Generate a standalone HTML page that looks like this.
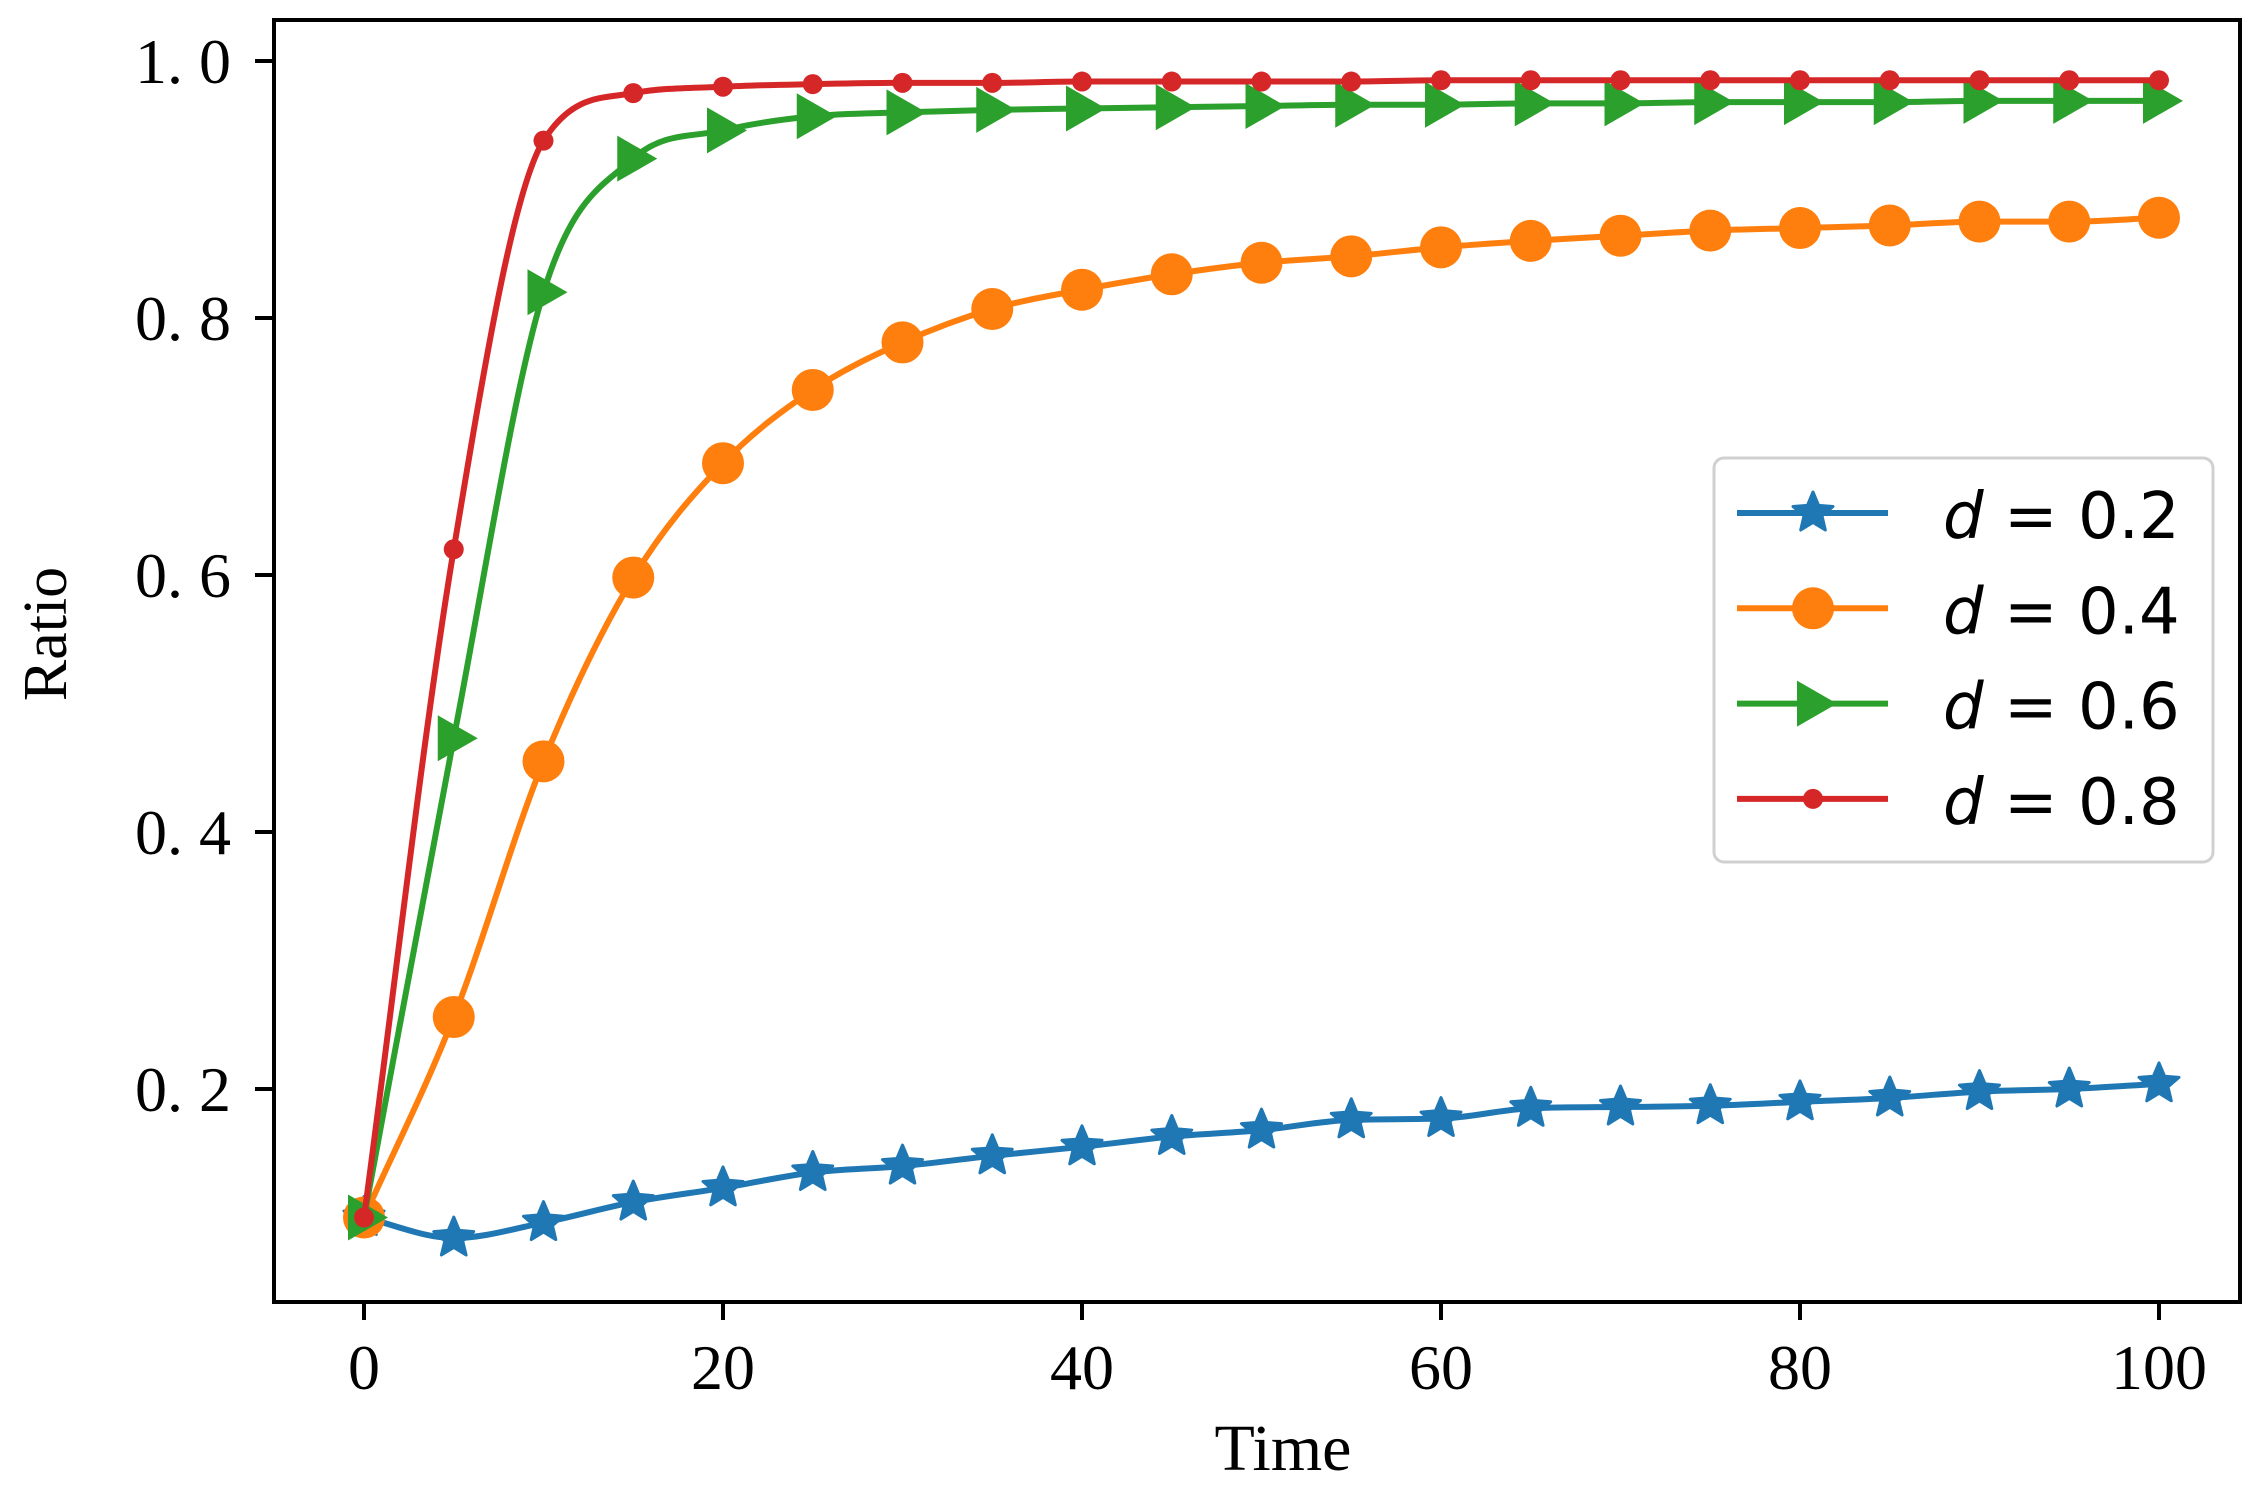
<!DOCTYPE html>
<html><head><meta charset="utf-8"><style>
html,body{margin:0;padding:0;background:#fff;}
svg{display:block;}
</style></head><body>
<svg id="chart" width="2261" height="1488" viewBox="0 0 2261 1488" xmlns="http://www.w3.org/2000/svg">
<g id="plot"></g>
</svg>
<script>
const times = [0,5,10,15,20,25,30,35,40,45,50,55,60,65,70,75,80,85,90,95,100];
const seriesD02 = [0.1,0.084,0.096,0.112,0.123,0.135,0.14,0.148,0.155,0.163,0.168,0.176,0.177,0.185,0.186,0.187,0.19,0.193,0.198,0.2,0.204];
const seriesD04 = [0.1,0.256,0.455,0.598,0.687,0.744,0.781,0.807,0.822,0.834,0.843,0.848,0.855,0.86,0.864,0.868,0.87,0.872,0.875,0.875,0.878];
const seriesD06 = [0.1,0.473,0.82,0.924,0.946,0.957,0.96,0.962,0.963,0.964,0.965,0.966,0.966,0.967,0.967,0.968,0.968,0.968,0.969,0.969,0.969];
const seriesD08 = [0.1,0.62,0.938,0.975,0.98,0.982,0.983,0.983,0.984,0.984,0.984,0.984,0.985,0.985,0.985,0.985,0.985,0.985,0.985,0.985,0.985];
const xTicks = [0,20,40,60,80,100];
const yTicks = [0.2,0.4,0.6,0.8,1.0];
const yTickLabels = ["0. 2","0. 4","0. 6","0. 8","1. 0"];
const legendLabels = ["0.2","0.4","0.6","0.8"];

const NS="http://www.w3.org/2000/svg";
const svg=document.getElementById('chart');
const g=document.getElementById('plot');
const L=274,R=2240,T=20,B=1302;
function xs(t){return 364+(t-0)*(2159-364)/100;}
function ys(v){return 61+(1.0-v)*(1285/1.0);}
function mk(tag,attrs,parent){const e=document.createElementNS(NS,tag);for(const k in attrs)e.setAttribute(k,attrs[k]);(parent||g).appendChild(e);return e;}
function monotone(pts){
  const n=pts.length;const dx=[],s=[];
  for(let i=0;i<n-1;i++){dx.push(pts[i+1][0]-pts[i][0]);s.push((pts[i+1][1]-pts[i][1])/dx[i]);}
  const m=new Array(n);m[0]=s[0];m[n-1]=s[n-2];
  for(let i=1;i<n-1;i++){ if(s[i-1]*s[i]<=0) m[i]=0; else { m[i]=(s[i-1]+s[i])/2; } }
  for(let i=0;i<n-1;i++){
    if(s[i]===0){m[i]=0;m[i+1]=0;continue;}
    const a=m[i]/s[i],b=m[i+1]/s[i];const h=a*a+b*b;
    if(h>9){const tt=3/Math.sqrt(h);m[i]=tt*a*s[i];m[i+1]=tt*b*s[i];}
  }
  let d=`M${pts[0][0]},${pts[0][1]}`;
  for(let i=0;i<n-1;i++){
    const h=dx[i]/3;
    d+=` C${pts[i][0]+h},${pts[i][1]+m[i]*h} ${pts[i+1][0]-h},${pts[i+1][1]-m[i+1]*h} ${pts[i+1][0]},${pts[i+1][1]}`;
  }
  return d;
}
function starPts(cx,cy,r){let s=[];for(let i=0;i<10;i++){const a=-Math.PI/2+i*Math.PI/5;const rr=i%2?r*0.45:r;s.push((cx+rr*Math.cos(a)).toFixed(1)+','+(cy+rr*Math.sin(a)).toFixed(1));}return s.join(' ');}
function marker(type,cx,cy,color,parent){
  let e;
  if(type==='star'){e=mk('polygon',{points:starPts(cx,cy,21),fill:color,stroke:color,'stroke-width':3,'stroke-linejoin':'round'},parent);}
  else if(type==='circle'){e=mk('circle',{cx:cx,cy:cy,r:21,fill:color},parent);}
  else if(type==='tri'){e=mk('polygon',{points:`${cx-16},${cy-23} ${cx+24},${cy} ${cx-16},${cy+23}`,fill:color},parent);}
  else {e=mk('circle',{cx:cx,cy:cy,r:10,fill:color},parent);}
  return e;
}
const frame=mk('rect',{x:L,y:T,width:R-L,height:B-T,fill:'none',stroke:'#000','stroke-width':4});


const FONT='"Liberation Serif","Noto Serif CJK SC",serif';
xTicks.forEach(t=>{
  const x=xs(t);
  const tk=mk('line',{x1:x,y1:B,x2:x,y2:B+18,stroke:'#000','stroke-width':4});
  
  
  const tx=mk('text',{x:x,y:B+87,'font-family':FONT,'font-size':64,'text-anchor':'middle',fill:'#000'});
  tx.textContent=t;
  
  
});
yTicks.forEach((v,i)=>{
  const y=ys(v);
  const tk=mk('line',{x1:L-19,y1:y,x2:L,y2:y,stroke:'#000','stroke-width':4});
  
  
  const tx=mk('text',{x:L-43,y:y+22,'font-family':FONT,'font-size':64,'text-anchor':'end',fill:'#000'});
  tx.textContent=yTickLabels[i];
  
  
});
const xt=mk('text',{x:1283,y:1470,'font-family':FONT,'font-size':66,'text-anchor':'middle',fill:'#000'});
xt.textContent='Time';


const yt=mk('text',{x:0,y:0,transform:'translate(66,634) rotate(-90)','font-family':FONT,'font-size':62,'text-anchor':'middle',fill:'#000'});
yt.textContent='Ratio';



const series=[
 {vals:seriesD02,color:'#1f77b4',m:'star',name:'series-d-0-2'},
 {vals:seriesD04,color:'#ff7f0e',m:'circle',name:'series-d-0-4'},
 {vals:seriesD06,color:'#2ca02c',m:'tri',name:'series-d-0-6'},
 {vals:seriesD08,color:'#d62728',m:'dot',name:'series-d-0-8'}
];
series.forEach(s=>{
  const grp=mk('g',{});
  
  
  const pts=times.map((t,i)=>[xs(t),ys(s.vals[i])]);
  const p=mk('path',{d:monotone(pts),fill:'none',stroke:s.color,'stroke-width':6,'stroke-linejoin':'round'},grp);
  
  
  pts.forEach(pt=>{
    const m=marker(s.m,pt[0],pt[1],s.color,grp);
    
    
  });
});
const lg=mk('g',{});


const lb=mk('rect',{x:1714,y:458,width:499,height:404,rx:10,fill:'#fff',stroke:'#d0d0d0','stroke-width':3},lg);


series.forEach((s,i)=>{
  const y=513+i*95.3;
  const e=mk('g',{},lg);
  
  
  mk('line',{x1:1737,y1:y,x2:1888,y2:y,stroke:s.color,'stroke-width':6},e);
  marker(s.m,1813,y,s.color,e);
  const t=mk('text',{x:1943,y:y+25,'font-family':'"DejaVu Sans",sans-serif','font-size':64,fill:'#000'},e);
  t.innerHTML='<tspan font-style="italic">d</tspan> = '+legendLabels[i];
});
</script>
</body></html>
